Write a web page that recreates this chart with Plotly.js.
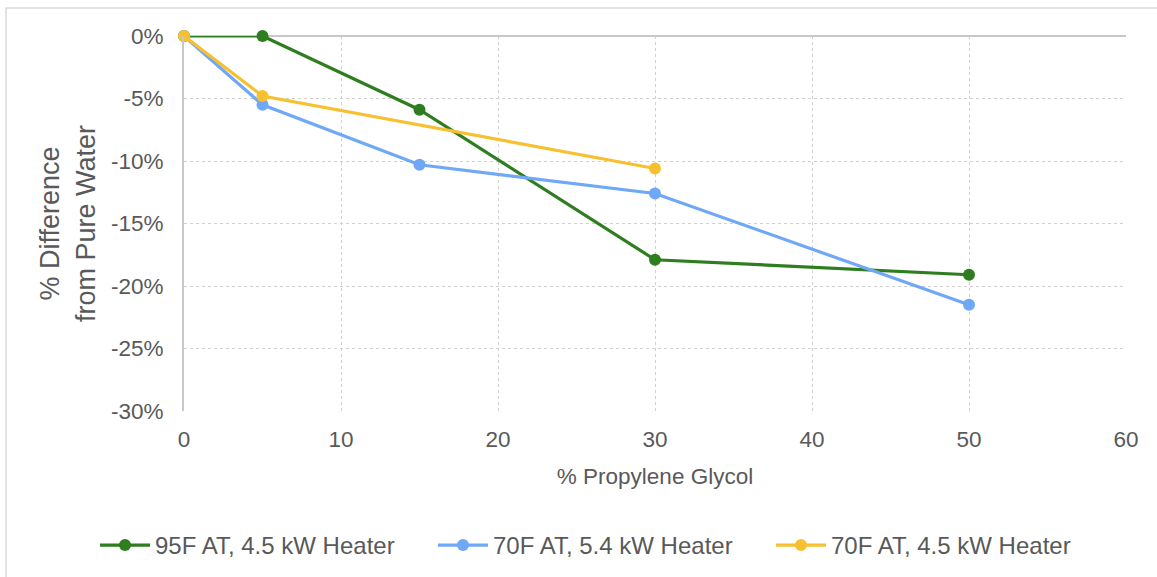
<!DOCTYPE html>
<html>
<head>
<meta charset="utf-8">
<script src="https://cdn.plot.ly/plotly-3.0.1.min.js"></script>
<style>html,body{margin:0;padding:0;background:#fff;}#chart{width:1157px;height:577px;}</style>
</head>
<body>
<div id="chart"></div>
<script>
// Data (y values as fractions of pure-water value)
const seriesNames = ["95F AT, 4.5 kW Heater", "70F AT, 5.4 kW Heater", "70F AT, 4.5 kW Heater"];
const xGreen = [0, 5, 15, 30, 50];
const yGreen = [0, 0, -0.059, -0.179, -0.191];
const xBlue = [0, 5, 15, 30, 50];
const yBlue = [0, -0.055, -0.103, -0.126, -0.215];
const xYellow = [0, 5, 30];
const yYellow = [0, -0.048, -0.106];
const yTickVals = [0, -0.05, -0.10, -0.15, -0.20, -0.25, -0.30];
const yTickText = ["0%", "-5%", "-10%", "-15%", "-20%", "-25%", "-30%"];
const xTickVals = [0, 10, 20, 30, 40, 50, 60];

const colors = ["#2e7d1f", "#6fa8f7", "#f6c030"];
const FONT = "Liberation Sans, Arial, sans-serif";
const TXT = "#595959";

function tr(x, y, name, color) {
  return {
    x: x, y: y, name: name, type: "scatter", mode: "lines+markers",
    line: {color: color, width: 3.2},
    marker: {color: color, size: 12},
    cliponaxis: false
  };
}

const data = [
  tr(xGreen, yGreen, seriesNames[0], colors[0]),
  tr(xBlue, yBlue, seriesNames[1], colors[1]),
  tr(xYellow, yYellow, seriesNames[2], colors[2])
];

const PLOT_W = 942, PLOT_H = 375, ML = 184, MT = 36;
const layout = {
  width: 1157, height: 577,
  margin: {l: ML, r: 31, t: MT, b: 166, autoexpand: false},
  paper_bgcolor: "#fff", plot_bgcolor: "#fff",
  font: {family: FONT, size: 22.5, color: TXT},
  showlegend: true,
  legend: {orientation: "h", xref: "paper", yref: "paper",
           x: (95 - ML) / PLOT_W, xanchor: "left", y: (MT + PLOT_H - 523) / PLOT_H, yanchor: "top",
           entrywidth: 273, entrywidthmode: "pixels",
           font: {family: FONT, size: 24, color: TXT}, traceorder: "normal", itemwidth: 50},
  xaxis: {
    range: [0, 60], tickvals: xTickVals, ticks: "", showline: false,
    showgrid: true, gridcolor: "#d0d0d0", griddash: "dot", gridwidth: 1,
    zeroline: false, tickfont: {size: 22.5, color: TXT}, ticklabelstandoff: 12,
    title: {text: "% Propylene Glycol", font: {size: 22.5, color: TXT}, standoff: 17}
  },
  yaxis: {
    range: [-0.30, 0], tickvals: yTickVals, ticktext: yTickText, ticks: "",
    showgrid: true, gridcolor: "#d0d0d0", griddash: "dot", gridwidth: 1,
    zeroline: true, zerolinecolor: "#c8c8c8", zerolinewidth: 2,
    showline: true, linecolor: "#c8c8c8", linewidth: 2,
    tickfont: {size: 22.5, color: TXT}, ticklabelstandoff: 14,
    title: {text: "% Difference<br>from Pure Water", font: {size: 27, color: TXT}, standoff: 8}
  },
  shapes: [
    {type: "rect", xref: "paper", yref: "paper",
     x0: (6 - ML) / PLOT_W, x1: (1162 - ML) / PLOT_W, y0: (MT + PLOT_H - 590) / PLOT_H, y1: (MT + PLOT_H - 8) / PLOT_H,
     line: {color: "#d9d9d9", width: 1.5}, fillcolor: "rgba(0,0,0,0)", layer: "below"}
  ]
};

Plotly.newPlot("chart", data, layout, {displayModeBar: false, staticPlot: true});
</script>
</body>
</html>
